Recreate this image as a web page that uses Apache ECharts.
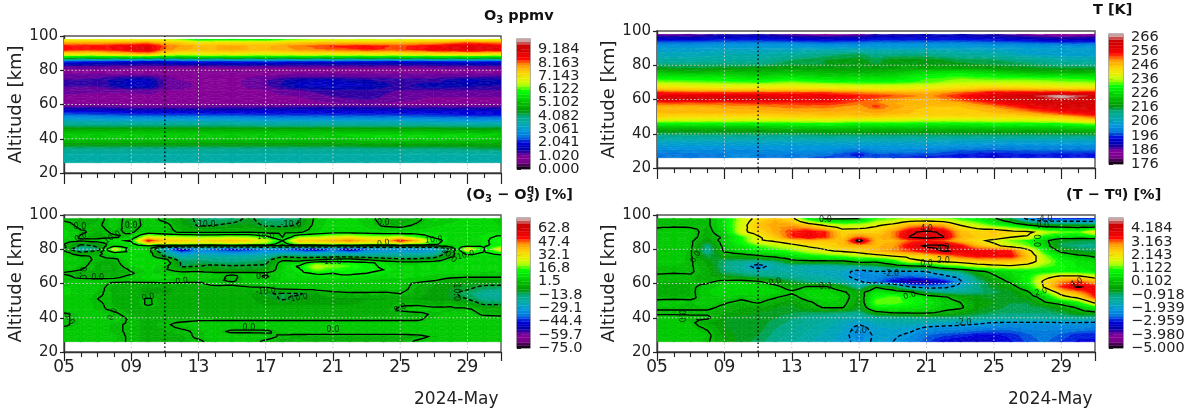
<!DOCTYPE html>
<html><head><meta charset="utf-8">
<style>html,body{margin:0;padding:0;background:#fff}#c{width:1192px;height:413px}#c canvas{filter:blur(.4px)}</style>
<script src="https://cdn.jsdelivr.net/npm/echarts@6/dist/echarts.min.js"></script>
</head><body><div id="c"></div>
<script>
const o3Days=[5,7,9,10,11,12,13,15,17,19,21,23,25,27,29,31];
const o3Alts=[98,96,94,92,90,88,87,86,85,84,82,80,78,76,74,71,68,64,60,58,56,54,52,50,48,46,44,42,40,38,36,34,31,26];
const o3Values=[
[6.8,6.8,6.8,6.8,6.6,6.2,5.6,5.7,5.6,6.2,6.6,6.5,6.6,6.8,6.8,6.7],
[7.8,7.8,7.9,8,7.6,7.4,7.1,7.2,7.2,7.5,7.6,7.6,7.7,7.8,8.2,8],
[8.5,8.5,8.7,8.9,8.2,7.9,7.7,7.8,7.7,8.1,8.4,8.5,8.3,8.6,9,8.7],
[8.5,8.4,8.8,9,8.1,7.8,7.7,7.8,7.7,8,8.2,8.4,8.3,8.7,9,8.8],
[7.4,7.4,7.9,8.1,7.4,7.1,7.1,7.2,7,7.2,7.2,7.3,7.3,7.5,7.6,7.5],
[6.1,6,6.2,6.2,5.9,5.7,6,6,5.9,6,6,6,6,6.1,6.1,6],
[5,4.9,5,4.9,4.6,4.7,4.9,4.9,4.9,4.9,4.9,4.9,4.9,5,5,4.9],
[3.4,3.2,3.2,3,3,3.2,3.3,3.3,3.3,3.3,3.3,3.2,3.2,3.3,3.3,3.2],
[2.3,2.2,2,1.9,1.9,2.1,2.2,2.2,2.3,2.2,2.2,2.1,2,2.1,2.2,2.2],
[1.8,1.6,1.6,1.5,1.6,1.7,1.7,1.7,1.7,1.6,1.6,1.6,1.6,1.6,1.7,1.7],
[1.2,1.2,1.1,1.1,1.1,1.1,1.1,1.2,1.2,1.2,1.2,1.2,1.1,1.2,1.2,1.2],
[.9,.9,.9,.9,.7,.6,.7,.7,.7,.7,.7,.7,.7,.8,.9,.9],
[1,1,.9,.9,.9,.9,.9,.9,.9,1,1,1,1,1,1,1],
[1.1,1.15,1.3,1.3,1.05,.95,.95,.95,1.05,1.2,1.2,1.15,1.15,1.15,1.2,1.25],
[1.25,1.3,1.7,1.7,1.15,1,.95,.95,1.2,1.6,1.65,1.45,1.3,1.3,1.7,1.5],
[1.25,1.25,1.75,1.75,1.2,1.2,.95,.95,1.2,1.7,1.8,1.7,1.35,1.6,1.5,1.4],
[1.1,1.05,1.05,1.1,1,.95,.95,.95,1,1.2,1.35,1.35,1.2,1.2,1.2,1.2],
[.95,.95,.95,.95,.95,.95,.95,.95,.95,1,1.2,1.3,1.1,1,1,1],
[.95,.95,.9,.9,.9,.9,.9,.9,.95,.95,.95,1,.95,.95,.9,.95],
[1.3,1.3,1.2,1.2,1.2,1.2,1.2,1.3,1.3,1.4,1.4,1.4,1.3,1.3,1.3,1.3],
[1.9,1.9,1.8,1.8,1.8,1.8,1.8,1.8,1.9,1.9,1.9,1.9,1.9,1.9,1.9,1.9],
[2.4,2.3,2.2,2.2,2.2,2.2,2.2,2.2,2.1,2.1,2.1,2.1,2.1,2.1,2,2],
[3,2.9,2.8,2.8,2.8,2.8,2.8,2.8,2.7,2.7,2.7,2.7,2.7,2.6,2.5,2.5],
[3.5,3.4,3.4,3.4,3.4,3.4,3.4,3.4,3.3,3.3,3.3,3.3,3.3,3.2,3.1,3.1],
[3.9,3.9,3.9,3.9,3.9,3.9,3.9,3.9,3.8,3.8,3.8,3.8,3.8,3.8,3.7,3.7],
[4.5,4.5,4.5,4.5,4.5,4.5,4.5,4.5,4.5,4.5,4.5,4.5,4.5,4.5,4.4,4.4],
[5,5,5,5,5,5,5,5,5,5,5,5,5,5,4.9,4.9],
[5.3,5.3,5.3,5.3,5.3,5.3,5.3,5.3,5.3,5.3,5.3,5.4,5.4,5.4,5.4,5.3],
[5.2,5.2,5.2,5.2,5.2,5.2,5.2,5.2,5.2,5.2,5.2,5.3,5.3,5.3,5.3,5.2],
[4.8,4.8,4.8,4.8,4.8,4.8,4.8,4.8,4.8,4.8,4.8,4.9,4.9,4.9,4.9,4.9],
[4.4,4.4,4.4,4.4,4.4,4.4,4.4,4.4,4.4,4.4,4.4,4.5,4.5,4.5,4.5,4.6],
[3.9,3.9,3.9,3.9,3.9,3.9,3.9,3.9,3.9,3.9,3.9,3.9,4,4,4.1,4.2],
[3.6,3.6,3.6,3.6,3.6,3.6,3.6,3.6,3.6,3.6,3.6,3.6,3.6,3.6,3.6,3.6],
[3.55,3.55,3.55,3.55,3.55,3.55,3.55,3.55,3.55,3.55,3.55,3.55,3.55,3.55,3.55,3.55]];

const tDays=[5,7,9,11,13,15,17,18,19,21,23,25,27,29,31];
const tAlts=[98,96,94,92,90,86,83,80,78,76,74,72,70,68,66,64,62,60,58,56,54,52,50,48,46,44,42,40,38,36,33,30,28,26];
const tValues=[
[185,186,189,189,186,184,185,188,189,190,190,188,185,183,184],
[191,190,192,193,191,190,191,193,193,193,193,192,190,188,189],
[196,196,197,197,196,195,196,197,197,197,197,196,195,193,194],
[201,201,202,202,202,201,201,202,202,202,202,201,201,200,200],
[204,204,205,205,205,205,205,205,205,205,205,205,204,204,204],
[207,207,208,208,210,213,215,212,213,213,210,209,206,205,205],
[209,209,210,210,214,216,217,215,217,217,215,214,212,209,208],
[214,214,214,214,216,216,217,216,218,218,217,216,215,213,212],
[217,216,217,218,218,218,218,218,218,219,219,218,217,216,216],
[223,220,222,221,222,221,220,221,222,226,227,224,221,220,220],
[227,226,226,224,226,224,224,224,225,229,231,229,227,226,226],
[231,230,230,228,230,228,228,228,228,232,234,233,233,232,231],
[235,234,233,232,234,232,231,231,231,233,236,236,236,235,234],
[240,239,238,238,239,238,237,237,237,238,240,241,240,239,238],
[245,244,243,243,243,243,242,241,241,242,244,247,246,245,244],
[254,252,252,252,252,252,250,249,248,247,251,255,255,255,255],
[258,258,258,258,257,257,254,253,252,249,254,259,263,268,263],
[260,260,260,260,258,257,253,251,249,247,252,259,261,264,261],
[252,252,252,253,253,254,251,250,248,246,248,254,259,261,260],
[248,248,249,250,251,251,249,253,249,246,246,250,256,260,260],
[247,246,247,248,249,249,248,250,248,245,245,247,252,257,259],
[246,246,246,246,247,247,247,248,247,245,245,246,248,253,257],
[244,243,243,243,244,245,245,245,244,243,243,243,244,246,252],
[238,238,238,238,238,239,238,238,238,237,237,238,238,240,245],
[230,230,230,230,231,232,230,231,231,230,230,231,231,232,235],
[224,224,224,224,225,226,225,225,225,225,225,226,226,226,228],
[218,218,218,218,219,220,220,220,220,220,220,220,220,220,222],
[215,215,215,215,215,216,216,216,216,216,216,216,216,216,217],
[210,210,210,210,210,211,211,211,211,211,211,211,211,211,211],
[207,207,207,207,207,207,207,207,207,207,206,206,206,206,206],
[204,204,204,204,204,204,204,204,204,204,203,202,202,202,202],
[201,201,201,201,202,202,198,201,201,200,198,197,198,198,198],
[199,199,200,200,200,199,195,198,197,197,196,194,196,195,195],
[199,199,200,200,199,197,196,197,196,195,195,193,195,194,194]];

const anomDays=[5,6,7,8,9,10,11,12,13,14,15,16,17,18,19,20,21,22,23,24,25,26,27,28,29,30,31];
const dO3Alts=[98,94,90,87,85,83,82,81,80,78,76,74,72,70,68,66,64,62,60,57,54,51,48,45,42,39,36,32,29,26];
const dO3Values=[
[-2,-3,-2,3,-3,3,-2,-6,-12,-15,-14,-8,-15,-15,-11,2,6,6,3,-3,-4,-2,5,3,6,7,2],
[3,-2,-1,3,-4,3,2,-4,-11,-10,-8,-7,-11,-12,-9,3,6,6,4,-1,-2,1,4,5,6,7,4],
[6,1,-2,1,-1,5,2,-1,-1,-1,-1,0,-2,-2,-1,4,7,7,6,5,5,6,6,7,7,7,6],
[6,-1,-3,-1,3,28,24,22,20,20,22,20,14,0,20,22,26,28,24,22,24,16,9,7,7,8,12],
[3,1,4,8,11,54,38,36,34,36,38,35,26,10,38,38,42,46,38,36,54,40,14,6,5,8,16],
[0,-9,-7,6,6,24,26,24,22,22,24,22,18,3,22,22,24,24,22,20,24,20,12,5,6,8,14],
[1,-12,-9,9,6,10,1,1,0,0,0,0,-1,-3,0,0,0,0,0,0,0,0,0,3,8,9,14],
[2,-15,-10,16,6,6,-12,-13,-13,-13,-14,-13,-12,-13,-13,-13,-13,-13,-12,-12,-12,-12,-12,-2,18,10,22],
[-3,-22,-14,28,5,4,-30,-60,-33,-42,-48,-45,-36,-40,-48,-58,-38,-60,-40,-36,-36,-38,-30,-10,30,10,30],
[4,-8,-3,10,7,5,-16,-36,-30,-32,-34,-33,-30,-28,-29,-30,-28,-32,-28,-26,-26,-26,-24,-4,15,9,15],
[5,1,-1,4,8,6,-12,-24,-20,-22,-23,-22,-20,-12,-14,-15,-14,-14,-16,-16,-17,-16,-14,-2,7,6,7],
[5,2,-1,-2,7,7,3,-16,-15,-16,-17,-16,-14,-2,-5,-2,2,3,-1,-6,-8,-8,-6,4,7,6,6],
[4,2,-2,-3,7,7,6,-11,-11,-13,-14,-12,-11,4,6,16,15,14,12,8,4,4,5,6,7,6,6],
[4,1,-2,-4,4,7,2,-11,-10,-8,-9,-9,-9,5,11,24,20,17,12,9,5,5,6,6,7,6,6],
[3,0,-2,-5,1,6,1,-3,-3,-7,-8,-8,-7,5,9,20,15,14,12,10,6,5,6,6,6,5,6],
[-1,-3,-2,-4,-1,5,3,2,3,2,2,2,1,5,8,11,10,11,10,8,6,5,5,5,5,4,3],
[2,-2,-3,-2,2,6,6,5,3,3,-2,4,-1,5,6,7,10,9,7,6,6,5,4,2,1,1,1],
[1,2,2,2,3,5,4,3,2,1,-1,3,4,5,5,5,5,5,5,4,4,3,1,-3,-5,-5,-5],
[4,4,2,-1,-2,-2,-1,-1,-1,2,1,2,3,3,3,3,3,3,3,2,2,-1,-4,-6,-7,-8,-8],
[5,4,2,-3,-4,-5,-5,-4,-3,-3,-2,-1,-1,1,2,2,3,3,3,2,2,-2,-6,-8,-9,-13,-14],
[5,4,1,-2,-4,-5,-5,-4,-4,-4,-4,-4,-9,-11,-11,-5,-2,-1,-1,-1,0,-3,-6,-8,-13,-18,-19],
[4,3,0,-2,-4,1,-4,-4,-4,-4,-4,-4,-6,-11,-7,-6,-6,-6,-5,-5,-5,-5,-7,-8,-10,-16,-17],
[4,3,1,-2,-4,1,-3,-3,-3,-4,-4,-4,-5,-5,-5,-5,-5,-5,-4,-3,-1,-1,-3,-1,-5,-11,-11],
[3,3,1,-1,-3,-3,-3,-3,-3,-3,-3,-3,-3,-3,-3,-3,-3,-3,-3,-3,1,3,2,1,1,-3,-3],
[-1,2,3,1,-2,-3,-3,-3,-3,-3,-3,-3,-3,-3,-3,-3,-3,-3,-2,-2,-2,-2,1,2,3,-1,-2],
[-1,2,3,3,-1,-2,-2,-2,-1,-1,-1,-1,-1,-1,-1,-1,-1,-1,-1,-1,-1,-1,2,3,4,4,4],
[-1,2,3,1,-1,-2,-1,2,3,4,4,4,4,4,4,4,4,4,4,4,4,4,4,4,4,4,4],
[3,3,3,1,-1,-2,-2,-1,1,2,-1,-1,-1,2,3,4,4,4,4,4,4,4,4,4,4,4,4],
[3,3,2,2,-1,-2,-2,-2,1,3,3,3,2,-1,-2,-3,-3,-3,-3,-3,-3,-2,1,3,4,4,4],
[3,3,3,2,-1,-2,-2,-2,-1,2,3,2,-1,-3,-1,-3,-3,-3,-3,-3,-3,1,3,4,4,4,4]];

const dTAlts=[98,94,90,87,85,82,79,76,73,70,67,64,61,58,55,52,49,46,43,40,37,34,30,26];
const dTValues=[
[-.1,-.1,-.1,-.1,.6,1.6,2.2,2.7,2.2,.6,-.1,-.1,-.05,1,1.2,1.4,1.4,1.3,1,.7,.1,-.8,-2.3,-3,-3,-3,-3],
[-.1,-.1,-.1,-.1,.6,1.7,2.6,2.9,2.9,2.5,1.9,1.5,1.6,1.9,2.2,2.8,3,2.8,2,1.6,1.1,.7,.1,-.4,-.5,-.6,-.7],
[.15,.3,.2,-.2,.4,1.8,2.3,2.8,3.4,3.7,3.4,2.4,2.4,2.4,3,3.9,4.15,3.9,2.7,2.4,2.6,2.3,2.2,1.6,1.3,1.2,2],
[.2,.3,.2,-.3,.1,1,1.9,2.5,3.4,3.7,3.4,2.5,3.2,2.7,3,4.02,4.2,4.02,2.8,2.5,2.4,2,1.9,.8,.4,.4,.5],
[.2,.3,.1,-.5,.3,1,1.9,2.1,2.4,2.7,2.6,2.6,4.3,2.7,2.7,3.2,3.4,3.2,2.6,2.2,1.8,1.3,1,.2,-.6,-.7,-.8],
[.2,.25,.1,-1,.2,.7,1.2,1.5,1.8,2.1,2.3,2.6,2.8,2.7,2.9,3.7,4.1,4.1,3.6,2.7,2.2,1.7,1.3,.4,-.9,-1,-1.1],
[.25,.25,.05,-1.2,.1,.4,.7,.9,1.2,1.6,1.9,2.1,2.3,2.7,3,3.3,3.7,4.05,3.9,3.7,3.6,3.4,2.3,.9,-.2,-.7,-.8],
[.2,.2,.05,-.8,-.4,-.3,-.1,.2,.5,.8,1,1.2,1.5,1.7,2,2.2,2.4,2.9,3.3,3.6,3.6,3.6,2.6,1.4,.6,.2,-.1],
[.2,.2,.05,-.4,-.9,-1,-1.1,-.9,-.2,-.1,-.1,-.1,.3,.2,.8,1.8,2,2.1,2.3,2.5,2.6,2.6,2.4,1.6,.9,.6,.4],
[.1,.1,.05,-.3,-1,-1.3,-2.5,-1.4,-1.3,-1.4,-1.4,-1.2,-1.1,-.9,-.5,-.2,0,.9,1.2,1.6,1.8,1.9,1.7,1.2,1,.7,.6],
[.1,.05,.05,-.2,-.9,-1.1,-1.3,-1.3,-1.4,-1.6,-1.6,-1.7,-2.3,-2,-2.1,-2.1,-2,-1.6,-.9,-.2,.2,.5,.7,.8,.9,.8,.7],
[-.1,-.1,-.05,-.3,-.5,-.7,-.9,-1,-1.2,-1.4,-1.5,-1.7,-2.4,-2.2,-2.5,-2.6,-2.4,-2.2,-1.8,-.7,-.1,.4,.9,1.7,2.2,2.2,1.7],
[-.1,-.1,-.1,-.1,.2,.3,.1,-.3,-.7,-1,-1.2,-1.4,-1.9,-2.5,-3.2,-3.8,-3.8,-3.2,-2.1,-1.1,-.4,.1,.9,2.2,3,3.3,2.7],
[-.1,-.2,-.1,.2,.4,.4,.4,.2,-.3,.1,.1,-.4,-1.3,-.05,-.6,-2,-2.3,-2.2,-1.7,-1,-.6,-.3,.5,2.1,3.4,4.1,3.6],
[-.1,-.2,-.1,.3,.5,.5,.5,.4,.1,.4,.4,.1,-.3,.6,.4,.1,-.9,-1.2,-1.2,-1,-.8,-.6,-.1,1.2,2.4,3,3.7],
[-.1,-.1,-.1,.2,.3,.1,.2,.05,-.2,.3,.5,.3,-.4,1,1.2,1,.5,.1,-.3,-.5,-.6,-.6,-.4,.3,1.7,2.2,3.4],
[.1,.15,.1,.2,.05,-.1,.05,-.2,-.5,-.1,.3,.2,-.5,1.3,1.3,1,.7,.3,0,-.4,-.5,-.7,-.7,-.05,.3,1,2.2],
[.1,.1,.05,.1,-.1,-.3,-.3,-.5,-.6,-.2,.05,.05,-.6,.8,.8,.7,.5,.2,.1,-.4,-.6,-.8,-.8,-.7,-.4,.1,.8],
[-.1,-.1,-.05,-.1,-.3,-.4,-.5,-.6,-.7,-.8,-.8,-.9,-1,-.2,.05,.1,.1,-.1,-.3,-.6,-.8,-.9,-.9,-.9,-.7,-.3,-.1],
[.15,.15,.05,.1,-.5,-.6,-.6,-.7,-.9,-1.1,-1.2,-1.4,-1.5,-1.3,-1.2,-1.1,-1,-1,-1,-1.1,-1.2,-1.2,-1.2,-1.2,-1.2,-1.2,-1.3],
[.2,.2,.1,-.3,-.5,-.6,-.6,-.8,-1,-1.2,-1.4,-1.6,-1.9,-1.6,-1.5,-1.5,-1.6,-1.7,-1.8,-1.9,-2.05,-2.1,-2.1,-2.1,-2.05,-2.05,-2.1],
[.2,.2,.15,-.05,-.5,-.6,-.6,-.9,-1.1,-1.3,-1.5,-1.7,-2.2,-1.8,-1.7,-1.8,-2.1,-2.2,-2.2,-2.3,-2.4,-2.4,-2.3,-2.3,-2.3,-2.3,-2.4],
[.2,.2,.2,.1,-.4,-.6,-.7,-1,-1.2,-1.4,-1.6,-1.8,-2.3,-1.9,-1.9,-2.1,-2.5,-2.7,-2.8,-3,-3,-2.9,-2.6,-2.4,-2.6,-2.9,-2.9],
[.15,.15,.2,.05,-.3,-.6,-.8,-1.1,-1.3,-1.5,-1.7,-1.8,-2.2,-1.9,-2,-2.3,-2.7,-3.1,-3.3,-3.3,-3.2,-3,-2.7,-2.5,-2.8,-3,-3]];

const o3Ticks=['0.000','1.020','2.041','3.061','4.082','5.102','6.122','7.143','8.163','9.184'];
const tTicks=['176','186','196','206','216','226','236','246','256','266'];
const dO3Ticks=['\u221275.0','\u221259.7','\u221244.4','\u221229.1','\u221213.8','1.5','16.8','32.1','47.4','62.8'];
const dTTicks=['\u22125.000','\u22123.980','\u22122.959','\u22121.939','\u22120.918','0.102','1.122','2.143','3.163','4.184'];
const gridDays=[9,13,17,21,25,29];
const gridAlts=[40,60,80];
const markerDay=[11];
const dO3Levels=[-10,0,10];
const dTLevels=[-2,0,2,4];
const dO3Labels=[[5.95,93,'0.0',0],[6,87,'0.0',-25],[7.8,86.5,'-10.0',-30],[9,93.5,'0.0',0],[13.4,94,'-10.0',0],[17,87.5,'10.0',-5],[18.5,94,'-10.0',0],[6.1,66,'0.0',90],[7,63,'0.0',0],[12,61.4,'0.0',-8],[16.8,63.7,'0.0',0],[17,55.4,'-10.0',-5],[18.9,51.5,'-10.0',-10],[10,52,'0.0',-10],[7.9,42,'0.0',-65],[5.3,39.5,'0.0',60],[16,34,'0.0',0],[24,95.5,'0.0',0],[27,85.5,'10.0',-5],[24,83.5,'0.0',-10],[27.9,76.5,'10.0',45],[28.9,76.5,'10.0',-15],[21,72.5,'10.0',0],[28.3,55,'10.0',90],[25,45.5,'0.0',-20],[21,33,'0.0',0]];
const dTLabels=[[7.3,75.5,'0.0',-60],[12,61,'0.0',-10],[15,58,'0.0',0],[6.4,41,'0.0',90],[17,32.5,'-2.0',0],[15,97,'0.0',0],[21,92,'4.0',0],[22,81,'4.0',-10],[22,73,'2.0',0],[21,71.5,'0.0',0],[18.9,65.7,'-2.0',0],[20,53,'0.0',-15],[29.9,60.5,'4.0',-25],[27.8,55,'2.0',-15],[27.5,85,'0.0',90],[27.9,93.5,'0.0',0],[28,98,'-4.0',0],[23.2,37,'-2.0',0]];

const stops=[[0,0,0,0],[.05,.4667,0,.5333],[.1,.5333,0,.6],[.15,0,0,.6667],[.2,0,0,.8667],[.25,0,.4667,.8667],[.3,0,.6,.8667],[.35,0,.6667,.6667],[.4,0,.6667,.5333],[.45,0,.6,0],[.5,0,.7333,0],[.55,0,.8667,0],[.6,0,1,0],[.65,.7333,1,0],[.7,.9333,.9333,0],[.75,1,.8,0],[.8,1,.6,0],[.85,1,0,0],[.9,.8667,0,0],[.95,.8,0,0],[1,.8,.8,.8]];
function cmap(t){
  t=Math.max(0,Math.min(1,t));
  for(let i=1;i<stops.length;i++){ if(t<=stops[i][0]){
    const a=stops[i-1],b=stops[i],f=(t-a[0])/(b[0]-a[0]);
    return 'rgb('+[1,2,3].map(k=>Math.round(255*(a[k]+(b[k]-a[k])*f))).join(',')+')';
  }}
  return '#ccc';
}
function clip(poly,lev,above){
  const out=[];
  for(let i=0;i<poly.length;i++){
    const p=poly[i],q=poly[(i+1)%poly.length];
    const pin=above?p[2]>=lev:p[2]<=lev, qin=above?q[2]>=lev:q[2]<=lev;
    if(pin) out.push(p);
    if(pin!==qin){const f=(lev-p[2])/(q[2]-p[2]);out.push([p[0]+(q[0]-p[0])*f,p[1]+(q[1]-p[1])*f,lev]);}
  }
  return out;
}
function triangles(days,alts,vals,i,j){
  const A=[days[i],alts[j],vals[j][i]],B=[days[i+1],alts[j],vals[j][i+1]],C=[days[i+1],alts[j+1],vals[j+1][i+1]],D=[days[i],alts[j+1],vals[j+1][i]];
  const M=[(A[0]+B[0])/2,(A[1]+D[1])/2,(A[2]+B[2]+C[2]+D[2])/4];
  return [[A,B,M],[B,C,M],[C,D,M],[D,A,M]];
}
function fieldSeries(idx,days,alts,vals,vmin,vmax,n){
  vals.forEach(r=>{if(r.length!==days.length)throw new Error('row length '+r.length+' in panel '+idx+': '+r.slice(0,4));});
  if(vals.length!==alts.length)throw new Error('rows '+idx);
  const step=(vmax-vmin)/n,cells=[],polys=[];
  for(let j=0;j<alts.length-1;j++)for(let i=0;i<days.length-1;i++){
    const list=[];
    triangles(days,alts,vals,i,j).forEach(tri=>{
      const vs=tri.map(p=>p[2]);
      let k0=Math.max(0,Math.floor((Math.min(...vs)-vmin)/step)),k1=Math.min(n-1,Math.floor((Math.max(...vs)-vmin)/step));
      k0=Math.min(k0,n-1);k1=Math.max(k1,0);
      for(let k=k0;k<=k1;k++){
        let p=tri;
        if(k>0)p=clip(p,vmin+k*step,true);
        if(p.length&&k<n-1)p=clip(p,vmin+(k+1)*step,false);
        if(p.length>2)list.push({pts:p,color:cmap((k+.5)/n)});
      }
    });
    polys.push(list);cells.push([days[i],alts[j]]);
  }
  return {type:'custom',xAxisIndex:idx,yAxisIndex:idx,data:cells,clip:true,silent:true,animation:false,progressive:0,z:2,encode:{x:0,y:1},
    renderItem:(p,api)=>({type:'group',children:polys[p.dataIndex].map(o=>({type:'polygon',silent:true,
      shape:{points:o.pts.map(q=>api.coord([q[0],q[1]]))},style:{fill:o.color,stroke:o.color,lineWidth:.5}}))})};
}
function contourSeries(idx,days,alts,vals,levels){
  const lines=[];
  levels.forEach(lev=>{
    const segs=[];
    const L=lev+1e-7;
    for(let j=0;j<alts.length-1;j++)for(let i=0;i<days.length-1;i++){
      triangles(days,alts,vals,i,j).forEach(tri=>{
        const pts=[];
        for(let e=0;e<3;e++){const p=tri[e],q=tri[(e+1)%3];
          if((p[2]-L)*(q[2]-L)<0){const f=(L-p[2])/(q[2]-p[2]);pts.push([p[0]+(q[0]-p[0])*f,p[1]+(q[1]-p[1])*f]);}}
        if(pts.length===2)segs.push(pts);
      });
    }
    const key=p=>p[0].toFixed(4)+','+p[1].toFixed(4);
    const map={};
    segs.forEach((s,i)=>{[0,1].forEach(e=>{(map[key(s[e])]=map[key(s[e])]||[]).push([i,e]);});});
    const used=segs.map(()=>false);
    const walk=(start,line)=>{
      let cur=start;
      while(true){
        const nx=(map[key(cur)]||[]).find(x=>!used[x[0]]);
        if(!nx)break;
        used[nx[0]]=true;
        cur=segs[nx[0]][1-nx[1]];line.push(cur);
      }
    };
    segs.forEach((s,i)=>{
      if(used[i])return;
      used[i]=true;
      const a=[s[1]];walk(s[1],a);
      const b=[];walk(s[0],b);
      lines.push({lev,pts:b.reverse().concat([s[0]],a)});
    });
  });
  return {type:'custom',xAxisIndex:idx,yAxisIndex:idx,data:lines.map(l=>l.pts[0]),clip:true,silent:true,animation:false,progressive:0,z:3,encode:{x:0,y:1},
    renderItem:(p,api)=>{const l=lines[p.dataIndex];return {type:'polyline',silent:true,shape:{points:l.pts.map(q=>api.coord(q))},
      style:{fill:null,stroke:'#000',lineWidth:1.35,lineDash:l.lev<0?[4,2.5]:null}};}};
}
function labelSeries(idx,labels){
  return {type:'custom',xAxisIndex:idx,yAxisIndex:idx,data:labels.map(l=>[l[0],l[1]]),clip:true,silent:true,animation:false,z:4,encode:{x:0,y:1},
    renderItem:(p,api)=>{const l=labels[p.dataIndex],c=api.coord([l[0],l[1]]);
      return {type:'text',silent:true,x:c[0],y:c[1],rotation:-l[3]*Math.PI/180,
        style:{text:l[2],x:0,y:0,fill:'rgba(0,30,0,.9)',font:'8px "DejaVu Sans"',textAlign:'center',textVerticalAlign:'middle'}};}};
}
function guideSeries(idx){
  const items=gridDays.map(d=>[d,0]).concat(gridAlts.map(a=>[a,1]),markerDay.map(d=>[d,2]));
  return {type:'custom',xAxisIndex:idx,yAxisIndex:idx,data:items,clip:true,silent:true,animation:false,z:5,dimensions:['a','b'],encode:{},
    renderItem:(p,api)=>{const it=items[p.dataIndex];
      const a=it[1]===1?api.coord([5,it[0]]):api.coord([it[0],20]);
      const b=it[1]===1?api.coord([31,it[0]]):api.coord([it[0],100]);
      return {type:'line',silent:true,shape:{x1:a[0],y1:a[1],x2:b[0],y2:b[1]},
        style:{stroke:it[1]===2?'#000':'#cfcfcf',lineWidth:it[1]===2?1.3:1,lineDash:it[1]===2?[1.5,2.5]:[1.5,2.2]}};}};
}
function colorbarSeries(idx,n,ticks){
  const lev=Array.from({length:n},(_,k)=>[0,k]);
  return {type:'custom',xAxisIndex:idx,yAxisIndex:idx,data:lev,silent:true,animation:false,z:2,encode:{x:0,y:1},
    renderItem:(p,api)=>{const k=p.dataIndex,a=api.coord([0,k]),b=api.coord([1,k+1]),c=cmap((k+.5)/n);
      const children=[{type:'rect',silent:true,shape:{x:a[0],y:b[1],width:b[0]-a[0],height:a[1]-b[1]},style:{fill:c,stroke:c,lineWidth:.3}}];
      if(k%5===0&&ticks[k/5]!==undefined)children.push({type:'text',silent:true,x:b[0]+8,y:a[1],
        style:{text:ticks[k/5],x:0,y:0,fill:'#222',font:'14.5px "DejaVu Sans"',textAlign:'left',textVerticalAlign:'middle'}});
      return {type:'group',children};}};
}
const FF='"DejaVu Sans"';
const panelPos=[[64,36,437,137],[657,31,438,137],[64,215,437,137],[657,215,438,137]];
const barPos=[[517,39,13,130],[1109,34,14,130],[517,218,13,130],[1109,218,14,130]];
const barLevels=[49,46,49,49];
const barTicks=[o3Ticks,tTicks,dO3Ticks,dTTicks];
const grid=[],xAxis=[],yAxis=[],series=[];
panelPos.forEach((p,i)=>{
  grid.push({left:p[0],top:p[1],width:p[2],height:p[3],show:true,borderColor:'#555',borderWidth:1.4,backgroundColor:'#fff'});
  const bottom=i>=2;
  xAxis.push({type:'value',gridIndex:i,min:5,max:31,interval:4,
    axisLine:{show:true,onZero:false,lineStyle:{color:'#333',width:1.4}},
    axisTick:{show:true,length:bottom?9:11,lineStyle:{color:'#222',width:1.2}},
    minorTick:{show:true,splitNumber:4,length:5,lineStyle:{color:'#222',width:1.1}},
    splitLine:{show:false},
    axisLabel:{show:bottom,showMaxLabel:false,showMinLabel:true,margin:7,fontFamily:FF,fontSize:17,color:'#222',formatter:v=>String(v).padStart(2,'0')}});
  yAxis.push({type:'value',gridIndex:i,min:20,max:100,interval:20,name:'Altitude [km]',nameLocation:'middle',nameGap:39,
    nameRotate:90,nameTextStyle:{fontFamily:FF,fontSize:18,color:'#222'},
    axisLine:{show:true,lineStyle:{color:'#333',width:1.4}},axisTick:{show:true,length:4,lineStyle:{color:'#222',width:1.2}},
    splitLine:{show:false},axisLabel:{margin:6,fontFamily:FF,fontSize:15,color:'#222'}});
});
barPos.forEach((p,i)=>{
  const idx=i+4,n=barLevels[i];
  grid.push({left:p[0],top:p[1],width:p[2],height:p[3],show:true,borderColor:'#777',borderWidth:1.2});
  xAxis.push({type:'value',gridIndex:idx,min:0,max:1,show:false});
  yAxis.push({type:'value',gridIndex:idx,position:'right',min:0,max:n,interval:5,
    axisLine:{show:false},axisTick:{show:true,length:4,lineStyle:{color:'#222',width:1}},splitLine:{show:false},
    axisLabel:{show:false}});
  series.push(colorbarSeries(idx,n,barTicks[i]));
});
series.push(fieldSeries(0,o3Days,o3Alts,o3Values,0,10,49),guideSeries(0));
series.push(fieldSeries(1,tDays,tAlts,tValues,176,268,46),guideSeries(1));
series.push(fieldSeries(2,anomDays,dO3Alts,dO3Values,-75,75,49),contourSeries(2,anomDays,dO3Alts,dO3Values,dO3Levels),labelSeries(2,dO3Labels),guideSeries(2));
series.push(fieldSeries(3,anomDays,dTAlts,dTValues,-5,5,49),contourSeries(3,anomDays,dTAlts,dTValues,dTLevels),labelSeries(3,dTLabels),guideSeries(3));
const rich={s:{fontFamily:FF,fontWeight:'bold',fontSize:10,verticalAlign:'bottom',padding:[7,0,0,0],color:'#111'},
  u:{fontFamily:FF,fontWeight:'bold',fontSize:10,verticalAlign:'top',padding:[0,0,7,0],color:'#111'}};
const tStyle={fontFamily:FF,fontWeight:'bold',fontSize:14.5,color:'#111',rich};
const qStyle={fontFamily:FF,fontWeight:'bold',fontSize:10,color:'#111'};
const plain={fontFamily:FF,fontSize:17,fontWeight:'normal',color:'#222'};
const title=[
 {text:'O{s|3} ppmv',left:484,top:8,padding:0,textStyle:tStyle},
 {text:'T [K]',left:1093,top:3,padding:0,textStyle:tStyle},
 {text:'(O{s|3} \u2212 O{s|3}) [%]',left:466,top:187,padding:0,textStyle:tStyle},
 {text:'q',left:527,top:184,padding:0,textStyle:qStyle},
 {text:'(T \u2212 T{u|q}) [%]',left:1066,top:187,padding:0,textStyle:tStyle},
 {text:'2024-May',left:414,top:391,padding:0,textStyle:plain},
 {text:'2024-May',left:1008,top:391,padding:0,textStyle:plain}];
const chart=echarts.init(document.getElementById('c'),null,{renderer:'canvas'});
chart.setOption({animation:false,backgroundColor:'#fff',title,grid,xAxis,yAxis,series});
</script></body></html>
